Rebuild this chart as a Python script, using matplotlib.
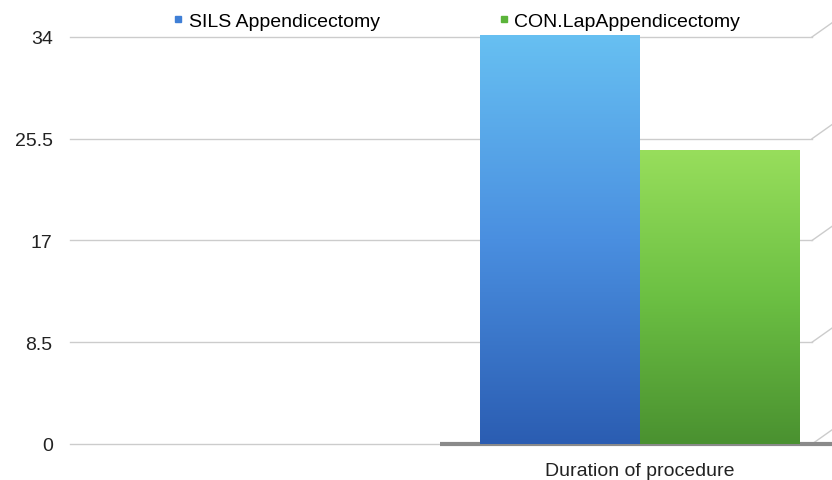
import matplotlib
matplotlib.use("Agg")
import matplotlib.pyplot as plt
import numpy as np
from matplotlib.colors import LinearSegmentedColormap
from matplotlib.lines import Line2D

categories = ["Duration of procedure"]
series_names = ["SILS Appendicectomy", "CON.LapAppendicectomy"]
sils_values = [34.2]
con_values = [24.6]
y_ticks = [0, 8.5, 17, 25.5, 34]
y_tick_labels = ["0", "8.5", "17", "25.5", "34"]

plt.rcParams["font.family"] = ["Liberation Sans", "DejaVu Sans"]

fig = plt.figure(figsize=(8.32, 4.81), dpi=100)
ax = fig.add_axes([70 / 832, 1 - 445 / 481, (812 - 70) / 832, (445 - 26) / 481])

x = np.arange(len(categories))
w = 0.4

blue_cmap = LinearSegmentedColormap.from_list("b", ["#2b5db2", "#4a8fe0", "#67c0f2"])
green_cmap = LinearSegmentedColormap.from_list("g", ["#4a9130", "#6cc043", "#98de5c"])

grad = np.linspace(0, 1, 256).reshape(-1, 1)
for offset, vals, cmap in [(-w / 2, sils_values, blue_cmap), (w / 2, con_values, green_cmap)]:
    bars = ax.bar(x + offset, vals, width=w, color="none", edgecolor="none", zorder=3)
    for b in bars:
        x0, y0 = b.get_x(), b.get_y()
        im = ax.imshow(grad, cmap=cmap, aspect="auto", origin="lower",
                       extent=[x0, x0 + b.get_width(), y0, y0 + b.get_height()], zorder=3)
        im.set_clip_path(b)

ax.set_xlim(-1.425, 0.43)
ax.set_ylim(0, 35)

# gridlines with the little perspective kink at the right edge
for yv in y_ticks:
    ax.plot([-1.425, 0.43], [yv, yv], color="#cccccc", lw=1, zorder=1, clip_on=False)
    ax.plot([0.43, 0.485], [yv, yv + 1.3], color="#cccccc", lw=1, zorder=1, clip_on=False)

# baseline shadow
ax.plot([-0.5, 0.485], [0, 0], color="#8a8a8a", lw=3, zorder=2, clip_on=False,
        solid_capstyle="butt")

ax.set_yticks(y_ticks)
ax.set_yticklabels(y_tick_labels, fontsize=14, color="#222222")
ax.set_xticks(x)
ax.set_xticklabels(categories, fontsize=14, color="#222222")
ax.tick_params(axis="y", length=0, pad=12.5)
ax.tick_params(axis="x", length=0, pad=13)
for s in ax.spines.values():
    s.set_visible(False)

handles = [Line2D([], [], ls="none", marker="s", markersize=5, color="#3f7fd6"),
           Line2D([], [], ls="none", marker="s", markersize=5, color="#5bb43a")]
fig.legend(handles, series_names, loc="upper left", bbox_to_anchor=(160 / 832, 1.0),
           ncol=2, frameon=False, fontsize=14, handlelength=0.5,
           handletextpad=0.3, columnspacing=6.1, borderaxespad=0.3)

fig.savefig("out.png", dpi=100)
